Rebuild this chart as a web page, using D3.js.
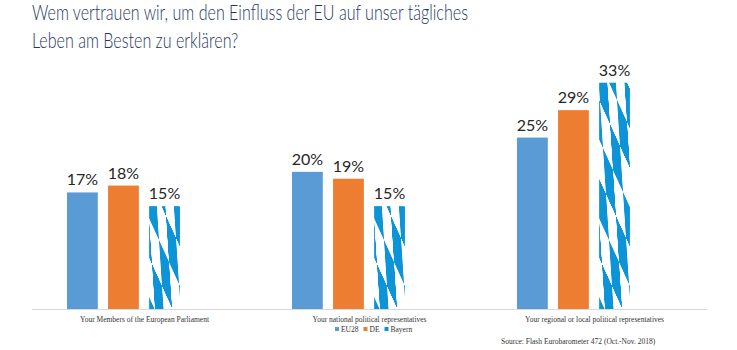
<!DOCTYPE html>
<html>
<head>
<meta charset="utf-8">
<script src="https://cdn.jsdelivr.net/npm/d3@7"></script>
<style>
    body { margin: 0; background: #fff; }
    svg { display: block; }
    .title { font-family: Lato, sans-serif; font-weight: 300; font-size: 21px; fill: #1f3864; }
    .value { font-family: Lato, sans-serif; font-size: 16px; fill: #262626; }
    .cat { font-family: "Liberation Serif", serif; font-size: 7.5px; fill: #333; }
    .legend, .source { font-family: "Liberation Serif", serif; font-size: 7.5px; fill: #333; }
</style>
</head>
<body>
<script>
const categories = [
    "Your Members of the European Parliament",
    "Your national political representatives",
    "Your regional or local political representatives"
]
const series = ["EU28", "DE", "Bayern"]
const eu28 = [17, 20, 25]
const de = [18, 19, 29]
const bayern = [15, 15, 33]

const WIDTH = 737
const HEIGHT = 350

const PADDING = {
    left: 32,
    right: 30,
    top: 69,
    bottom: 41
}

const COLORS = { EU28: "#5b9bd5", DE: "#ed7d31", Bayern: "url(#rauten)" }

const dataset = categories.map((c, i) => ({
    category: c,
    values: [
        { key: "EU28", value: eu28[i] },
        { key: "DE", value: de[i] },
        { key: "Bayern", value: bayern[i] }
    ]
}))

const svg = d3.select("body")
    .append("svg")
    .attr("width", WIDTH)
    .attr("height", HEIGHT)

// bavarian lozenges, sheared checkerboard
const defs = svg.append("defs")
const pat = defs.append("pattern")
    .attr("id", "rauten")
    .attr("patternUnits", "userSpaceOnUse")
    .attr("width", 2)
    .attr("height", 2)
    .attr("patternTransform", "matrix(10 22 3 46 0 0)")
pat.append("rect").attr("width", 2).attr("height", 2).attr("fill", "#fff")
pat.append("rect").attr("width", 1).attr("height", 1).attr("fill", "#0d93d8")
pat.append("rect").attr("x", 1).attr("y", 1).attr("width", 1).attr("height", 1).attr("fill", "#0d93d8")

const titleLines = [
    "Wem vertrauen wir, um den Einfluss der EU auf unser tägliches",
    "Leben am Besten zu erklären?"
]
const titles = svg.selectAll("text.title")
    .data(titleLines)
    .enter()
    .append("text")
    .attr("class", "title")
    .attr("x", 32)
    .attr("y", (d, i) => 20 + i * 28)
    .text(d => d)

// squeeze to a calibri-like width, first line is ~436px wide
const squeeze = 436 / titles.node().getComputedTextLength()
titles.each(function () {
    const w = this.getComputedTextLength()
    d3.select(this).attr("textLength", w * squeeze).attr("lengthAdjust", "spacingAndGlyphs")
})

const x0 = d3.scaleBand()
    .domain(categories)
    .range([PADDING.left, WIDTH - PADDING.right])

// the source leaves an empty fourth slot in every group
const x1 = d3.scaleBand()
    .domain([...series, ""])
    .range([35, 189])
    .paddingInner(0.25)

const yScale = d3.scaleLinear()
    .domain([0, 35])
    .range([HEIGHT - PADDING.bottom, PADDING.top])

svg.append("line")
    .attr("x1", PADDING.left)
    .attr("x2", WIDTH - PADDING.right)
    .attr("y1", yScale(0) + 0.5)
    .attr("y2", yScale(0) + 0.5)
    .attr("stroke", "#d9d9d9")

const groups = svg.selectAll("g.group")
    .data(dataset)
    .enter()
    .append("g")
    .attr("class", "group")
    .attr("transform", d => "translate(" + x0(d.category) + ",0)")

groups.selectAll("rect")
    .data(d => d.values)
    .enter()
    .append("rect")
    .attr("x", d => x1(d.key))
    .attr("y", d => yScale(d.value))
    .attr("width", x1.bandwidth())
    .attr("height", d => yScale(0) - yScale(d.value))
    .attr("fill", d => COLORS[d.key])

groups.selectAll("text.value")
    .data(d => d.values)
    .enter()
    .append("text")
    .attr("class", "value")
    .attr("text-anchor", "middle")
    .attr("x", d => x1(d.key) + x1.bandwidth() / 2)
    .attr("y", d => yScale(d.value) - 7)
    .text(d => d.value + "%")

const xAxis = d3.axisBottom(x0).tickSize(0).tickPadding(8)
const axisG = svg.append("g")
    .attr("transform", "translate(0," + yScale(0) + ")")
    .call(xAxis)
axisG.select(".domain").remove()
axisG.selectAll("text").attr("class", "cat").attr("font-family", null).attr("font-size", null)

// legend
const legend = svg.append("g").attr("transform", "translate(335,332)")
let lx = 0
series.forEach(s => {
    legend.append("rect")
        .attr("x", lx)
        .attr("y", -5)
        .attr("width", 4)
        .attr("height", 4)
        .attr("fill", s === "Bayern" ? "#0d93d8" : COLORS[s])
    const t = legend.append("text")
        .attr("class", "legend")
        .attr("x", lx + 6)
        .attr("y", 0)
        .text(s)
    lx += 6 + t.node().getComputedTextLength() + 5
})

svg.append("text")
    .attr("class", "source")
    .attr("x", 501)
    .attr("y", 344)
    .text("Source: Flash Eurobarometer 472 (Oct.-Nov. 2018)")
</script>
</body>
</html>
